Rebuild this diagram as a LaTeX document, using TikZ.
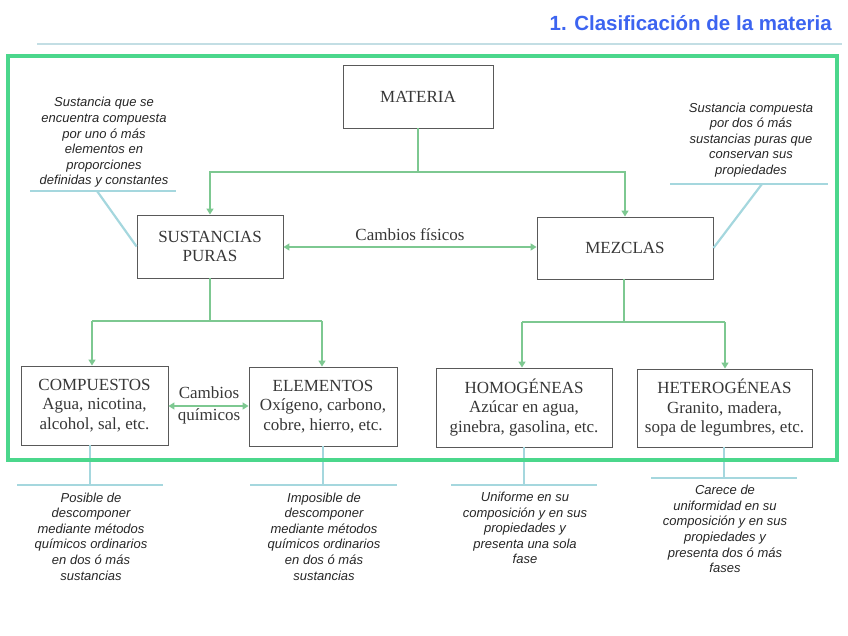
\documentclass[tikz,border=0pt]{standalone}
\usepackage{fontspec}
\setmainfont{Liberation Serif}
\setsansfont{Liberation Sans}
\usetikzlibrary{arrows.meta}
\definecolor{framegreen}{RGB}{75,215,140}
\definecolor{conngreen}{RGB}{125,200,145}
\definecolor{annline}{RGB}{165,215,222}
\definecolor{titleblue}{RGB}{60,100,240}
\definecolor{titleline}{RGB}{195,222,228}
\definecolor{boxtext}{RGB}{55,55,55}
\begin{document}
\begin{tikzpicture}[x=1pt,y=-1pt,
 box/.style={draw=black!65, line width=0.9pt, fill=white, align=center,
   font=\fontsize{17}{19.5}\selectfont, text=boxtext, inner sep=0pt},
 conn/.style={draw=conngreen, line width=1.6pt},
 arr/.style={conn, -{Triangle[width=7pt,length=6pt]}},
 darr/.style={conn, {Triangle[width=7pt,length=6pt]}-{Triangle[width=7pt,length=6pt]}},
 ann/.style={align=center, font=\sffamily\itshape\fontsize{13}{15.6}\selectfont,
   text=black!85, inner sep=0pt},
 annl/.style={draw=annline, line width=2.2pt},
 lbl/.style={font=\fontsize{17}{19.5}\selectfont, text=boxtext, inner sep=0pt}
]
\useasboundingbox (0,0) rectangle (848,636);

% title
\node[anchor=base east, inner sep=0pt, font=\sffamily\bfseries\fontsize{20.5}{24}\selectfont,
  text=titleblue] (title) at (832,31) {1. Clasificación de la materia};
\coordinate (tl1) at (37,44);
\coordinate (tl2) at (842,44);
\draw[titleline, line width=2.5pt] (tl1) -- (tl2);

% boxes
\node[box, minimum width=150, minimum height=63] (mat) at (418,96.5) {MATERIA};
\node[box, minimum width=146, minimum height=63] (sust) at (210,246.5) {SUSTANCIAS\\PURAS};
\node[box, minimum width=176, minimum height=62] (mez) at (625,248) {MEZCLAS};
\node[box, minimum width=147, minimum height=79] (comp) at (94.5,405.5) {COMPUESTOS\\Agua, nicotina,\\alcohol, sal, etc.};
\node[box, minimum width=148, minimum height=79] (elem) at (323,406.5) {ELEMENTOS\\Oxígeno, carbono,\\cobre, hierro, etc.};
\node[box, minimum width=176, minimum height=79] (homo) at (524,407.5) {HOMOGÉNEAS\\Azúcar en agua,\\ginebra, gasolina, etc.};
\node[box, minimum width=175, minimum height=78] (hete) at (724.5,408) {HETEROGÉNEAS\\Granito, madera,\\sopa de legumbres, etc.};

% tree connectors
\coordinate (m1) at (418,172);
\draw[conn] (mat.south) -- (m1);
\draw[arr] (m1) -| (sust.north);
\draw[arr] (m1) -| (mez.north);

\coordinate (s1) at (210,321);
\draw[conn] (sust.south) -- (s1);
\coordinate (s1l) at (92,321);
\coordinate (s1r) at (322,321);
\draw[conn] (s1l) -- (s1r);
\draw[arr] (s1l) -- (s1l |- comp.north);
\draw[arr] (s1r) -- (s1r |- elem.north);

\coordinate (z1) at (624,322);
\draw[conn] (mez.south -| z1) -- (z1);
\coordinate (z1l) at (522,322);
\coordinate (z1r) at (725,322);
\draw[conn] (z1l) -- (z1r);
\draw[arr] (z1l) -- (z1l |- homo.north);
\draw[arr] (z1r) -- (z1r |- hete.north);

% horizontal changes
\coordinate (cf) at (0,247);
\draw[darr] (sust.east |- cf) -- (mez.west |- cf);
\node[lbl, anchor=base] (cftxt) at (410,241) {Cambios físicos};

\coordinate (cq) at (0,406);
\draw[darr] (comp.east |- cq) -- (elem.west |- cq);
\node[lbl, anchor=base] (cq1) at (209,398) {Cambios};
\node[lbl, anchor=base] (cq2) at (209,420) {químicos};

% upper annotations
\node[ann] (a1) at (104,142.5) {Sustancia que se\\encuentra compuesta\\por uno ó más\\elementos en\\proporciones\\definidas y constantes};
\coordinate (u1a) at (30,191);
\coordinate (u1b) at (176,191);
\coordinate (u1c) at (97,191);
\draw[annl] (u1a) -- (u1b);
\draw[annl] (u1c) -- (sust.west);

\node[ann] (a2) at (751,140) {Sustancia compuesta\\por dos ó más\\sustancias puras que\\conservan sus\\propiedades};
\coordinate (u2a) at (670,184);
\coordinate (u2b) at (828,184);
\coordinate (u2c) at (762,184);
\draw[annl] (u2a) -- (u2b);
\draw[annl] (u2c) -- (mez.east);

% lower annotation lines
\coordinate (b1) at (90,485);
\draw[annl] (b1 |- comp.south) -- (b1);
\coordinate (b1a) at (17,485);
\coordinate (b1b) at (163,485);
\draw[annl] (b1a) -- (b1b);

\coordinate (b2) at (323,485);
\draw[annl] (b2 |- elem.south) -- (b2);
\coordinate (b2a) at (250,485);
\coordinate (b2b) at (397,485);
\draw[annl] (b2a) -- (b2b);

\coordinate (b3) at (524,485);
\draw[annl] (b3 |- homo.south) -- (b3);
\coordinate (b3a) at (451,485);
\coordinate (b3b) at (597,485);
\draw[annl] (b3a) -- (b3b);

\coordinate (b4) at (724,478);
\draw[annl] (b4 |- hete.south) -- (b4);
\coordinate (b4a) at (651,478);
\coordinate (b4b) at (797,478);
\draw[annl] (b4a) -- (b4b);

% frame
\draw[framegreen, line width=3.5pt] (8,56) rectangle (837,460);

% lower annotations
\node[ann] (t1) at (91,536.5) {Posible de\\descomponer\\mediante métodos\\químicos ordinarios\\en dos ó más\\sustancias};
\node[ann] (t2) at (324,536.5) {Imposible de\\descomponer\\mediante métodos\\químicos ordinarios\\en dos ó más\\sustancias};
\node[ann] (t3) at (525,528) {Uniforme en su\\composición y en sus\\propiedades y\\presenta una sola\\fase};
\node[ann] (t4) at (725,529) {Carece de\\uniformidad en su\\composición y en sus\\propiedades y\\presenta dos ó más\\fases};
\end{tikzpicture}
\end{document}
